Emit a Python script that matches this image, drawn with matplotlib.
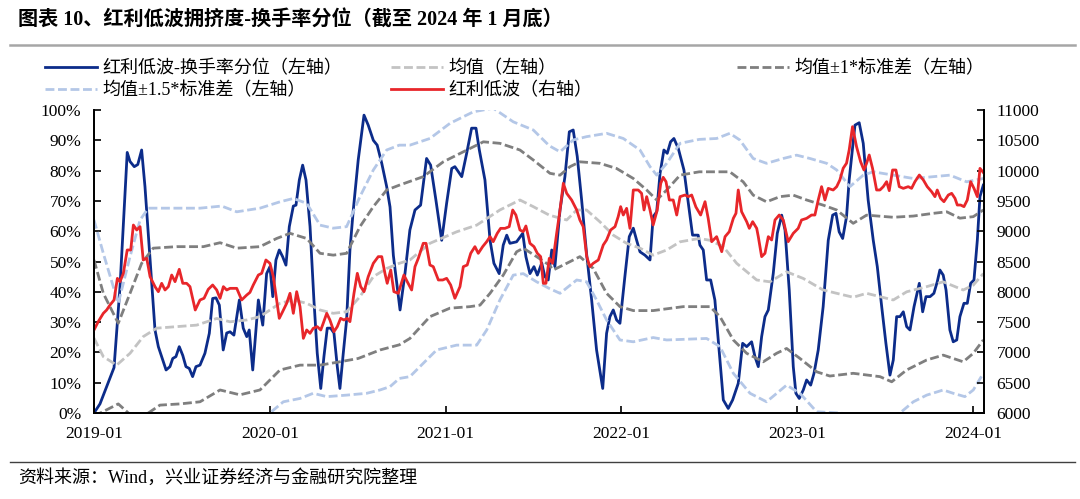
import matplotlib
matplotlib.use("Agg")
import matplotlib.pyplot as plt
from matplotlib.lines import Line2D

# 红利低波-换手率分位 (%), time as decimal year
blue_t = [2019.000, 2019.034, 2019.072, 2019.114, 2019.148, 2019.189, 2019.205, 2019.229, 2019.249, 2019.271,
          2019.290, 2019.319, 2019.347, 2019.366, 2019.385, 2019.410, 2019.432, 2019.448, 2019.466, 2019.485,
          2019.505, 2019.523, 2019.542, 2019.561, 2019.580, 2019.603, 2019.631, 2019.656, 2019.675, 2019.694,
          2019.713, 2019.735, 2019.755, 2019.774, 2019.796, 2019.827, 2019.849, 2019.869, 2019.883, 2019.903,
          2019.935, 2019.948, 2019.960, 2019.982, 2020.001, 2020.017, 2020.035, 2020.054, 2020.073, 2020.092,
          2020.111, 2020.134, 2020.149, 2020.168, 2020.187, 2020.206, 2020.229, 2020.251, 2020.270, 2020.290,
          2020.308, 2020.327, 2020.346, 2020.365, 2020.384, 2020.399, 2020.418, 2020.437, 2020.456, 2020.475,
          2020.503, 2020.536, 2020.560, 2020.589, 2020.611, 2020.637, 2020.665, 2020.684, 2020.703, 2020.741,
          2020.769, 2020.797, 2020.826, 2020.858, 2020.892, 2020.915, 2020.945, 2020.978, 2021.006, 2021.035,
          2021.053, 2021.092, 2021.120, 2021.148, 2021.173, 2021.192, 2021.224, 2021.253, 2021.275, 2021.305,
          2021.328, 2021.348, 2021.366, 2021.404, 2021.439, 2021.457, 2021.480, 2021.503, 2021.522, 2021.547,
          2021.565, 2021.584, 2021.604, 2021.622, 2021.651, 2021.679, 2021.704, 2021.726, 2021.749, 2021.774,
          2021.802, 2021.831, 2021.859, 2021.894, 2021.916, 2021.935, 2021.954, 2021.973, 2021.992, 2022.020,
          2022.045, 2022.068, 2022.087, 2022.106, 2022.134, 2022.163, 2022.181, 2022.201, 2022.220, 2022.242,
          2022.261, 2022.280, 2022.299, 2022.324, 2022.356, 2022.386, 2022.405, 2022.437, 2022.447, 2022.466,
          2022.485, 2022.508, 2022.532, 2022.551, 2022.580, 2022.608, 2022.633, 2022.665, 2022.690, 2022.713,
          2022.741, 2022.760, 2022.779, 2022.798, 2022.817, 2022.836, 2022.864, 2022.887, 2022.912, 2022.931,
          2022.955, 2022.978, 2022.993, 2023.012, 2023.035, 2023.054, 2023.077, 2023.096, 2023.120, 2023.148,
          2023.177, 2023.202, 2023.221, 2023.239, 2023.259, 2023.281, 2023.296, 2023.310, 2023.329, 2023.353,
          2023.376, 2023.404, 2023.433, 2023.456, 2023.481, 2023.505, 2023.528, 2023.547, 2023.566, 2023.585,
          2023.604, 2023.623, 2023.642, 2023.665, 2023.695, 2023.714, 2023.733, 2023.756, 2023.778, 2023.797,
          2023.812, 2023.831, 2023.847, 2023.869, 2023.888, 2023.908, 2023.926, 2023.949, 2023.968, 2023.987,
          2024.006, 2024.025, 2024.040, 2024.059]
blue_v = [0.0, 3.0, 8.7, 15.0, 41.7, 86.0, 83.0, 81.3, 82.0, 86.8,
          74.7, 50.5, 27.4, 21.9, 18.6, 14.2, 15.3, 18.0, 18.6, 21.9,
          19.0, 15.3, 14.7, 12.0, 15.3, 15.8, 19.7, 26.3, 37.8, 38.0,
          35.6, 20.8, 26.4, 26.8, 25.7, 37.3, 28.0, 25.2, 27.4, 14.2,
          37.3, 33.0, 29.0, 46.0, 48.3, 38.4, 50.5, 53.8, 51.6, 48.8,
          61.5, 68.3, 68.6, 76.9, 81.8, 76.9, 61.5, 37.3, 19.7, 8.1,
          18.6, 28.0, 28.0, 26.4, 15.3, 8.1, 19.7, 30.7, 53.8, 67.0,
          83.5, 98.3, 95.0, 90.0, 88.4, 82.4, 74.7, 68.0, 52.0, 34.0,
          46.0, 60.4, 67.0, 68.6, 84.0, 81.8, 70.3, 57.0, 69.2, 80.7,
          81.3, 78.0, 85.7, 94.0, 94.0, 86.8, 76.9, 57.0, 49.4, 46.0,
          55.4, 58.7, 56.0, 56.5, 59.3, 51.6, 46.0, 48.3, 45.5, 49.5,
          45.0, 43.9, 53.8, 48.3, 67.0, 78.0, 92.8, 93.4, 84.7, 70.3,
          52.7, 37.3, 20.8, 8.1, 26.3, 31.8, 34.0, 30.7, 29.6, 45.0,
          58.2, 61.0, 57.0, 53.2, 52.1, 50.5, 64.8, 66.4, 79.0, 86.8,
          85.7, 89.5, 90.6, 87.3, 80.2, 67.0, 58.7, 58.7, 55.4, 53.8,
          43.9, 43.9, 37.3, 24.1, 4.3, 1.5, 4.3, 9.8, 23.0, 21.9,
          23.5, 18.6, 15.3, 25.2, 31.8, 34.0, 46.0, 59.3, 65.3, 60.4,
          40.6, 15.3, 6.5, 4.8, 7.6, 10.9, 9.2, 13.1, 20.8, 35.1,
          57.0, 65.3, 65.9, 59.8, 57.6, 64.8, 76.9, 84.7, 95.0, 95.8,
          89.0, 70.3, 57.0, 48.3, 35.1, 23.0, 12.5, 17.5, 31.8, 31.8,
          33.4, 28.5, 27.4, 35.1, 42.8, 33.4, 38.4, 38.4, 39.5, 43.3,
          47.2, 45.5, 40.6, 27.4, 23.5, 24.1, 31.8, 36.2, 36.2, 42.8,
          43.9, 57.0, 71.4, 75.2]

# 红利低波 index (right axis)
red_t = [2019.000, 2019.024, 2019.053, 2019.072, 2019.091, 2019.114, 2019.133, 2019.148, 2019.167, 2019.189,
         2019.209, 2019.224, 2019.243, 2019.262, 2019.280, 2019.300, 2019.319, 2019.347, 2019.366, 2019.385,
         2019.404, 2019.423, 2019.442, 2019.461, 2019.485, 2019.505, 2019.527, 2019.546, 2019.576, 2019.603,
         2019.626, 2019.650, 2019.675, 2019.698, 2019.717, 2019.736, 2019.755, 2019.774, 2019.812, 2019.840,
         2019.869, 2019.887, 2019.906, 2019.935, 2019.954, 2019.978, 2020.001, 2020.020, 2020.039, 2020.054,
         2020.073, 2020.096, 2020.115, 2020.134, 2020.153, 2020.172, 2020.191, 2020.210, 2020.229, 2020.247,
         2020.270, 2020.290, 2020.304, 2020.324, 2020.342, 2020.365, 2020.384, 2020.403, 2020.422, 2020.441,
         2020.456, 2020.479, 2020.498, 2020.517, 2020.536, 2020.560, 2020.589, 2020.617, 2020.637, 2020.655,
         2020.668, 2020.688, 2020.706, 2020.731, 2020.763, 2020.782, 2020.807, 2020.826, 2020.845, 2020.873,
         2020.889, 2020.911, 2020.930, 2020.959, 2020.984, 2021.006, 2021.029, 2021.053, 2021.082, 2021.101,
         2021.123, 2021.143, 2021.167, 2021.186, 2021.211, 2021.234, 2021.253, 2021.271, 2021.294, 2021.313,
         2021.338, 2021.362, 2021.382, 2021.400, 2021.423, 2021.442, 2021.457, 2021.480, 2021.503, 2021.522,
         2021.541, 2021.556, 2021.571, 2021.590, 2021.609, 2021.632, 2021.651, 2021.670, 2021.689, 2021.717,
         2021.746, 2021.764, 2021.783, 2021.803, 2021.821, 2021.840, 2021.869, 2021.897, 2021.916, 2021.939,
         2021.964, 2021.982, 2021.996, 2022.011, 2022.030, 2022.049, 2022.068, 2022.096, 2022.115, 2022.129,
         2022.144, 2022.163, 2022.181, 2022.204, 2022.224, 2022.238, 2022.254, 2022.273, 2022.295, 2022.315,
         2022.334, 2022.362, 2022.381, 2022.400, 2022.424, 2022.451, 2022.476, 2022.494, 2022.514, 2022.542,
         2022.571, 2022.590, 2022.614, 2022.637, 2022.652, 2022.665, 2022.684, 2022.713, 2022.728, 2022.747,
         2022.770, 2022.779, 2022.798, 2022.817, 2022.836, 2022.855, 2022.874, 2022.898, 2022.921, 2022.949,
         2022.978, 2023.006, 2023.025, 2023.054, 2023.082, 2023.101, 2023.120, 2023.139, 2023.158, 2023.177,
         2023.205, 2023.225, 2023.243, 2023.262, 2023.281, 2023.296, 2023.315, 2023.338, 2023.361, 2023.380,
         2023.395, 2023.410, 2023.429, 2023.452, 2023.471, 2023.490, 2023.509, 2023.524, 2023.543, 2023.562,
         2023.581, 2023.604, 2023.632, 2023.651, 2023.670, 2023.695, 2023.718, 2023.740, 2023.765, 2023.784,
         2023.797, 2023.816, 2023.835, 2023.860, 2023.879, 2023.898, 2023.911, 2023.930, 2023.949, 2023.968,
         2023.987, 2024.006, 2024.025, 2024.040, 2024.063]
red_v = [7370, 7507, 7645, 7700, 7782, 7865, 8222, 8167, 8305, 8690,
         8690, 9102, 9020, 9075, 8525, 8553, 8250, 8085, 8002, 8140,
         8030, 8085, 8277, 8167, 8371, 8140, 8140, 8085, 7700, 7865,
         7893, 8041, 8112, 8030, 7893, 8085, 8030, 8057, 8057, 7865,
         7947, 7990, 8112, 8277, 8305, 8525, 8470, 8250, 7865, 7562,
         7672, 7810, 7975, 7645, 8002, 7755, 7232, 7370, 7315, 7397,
         7425, 7370, 7480, 7645, 7535, 7342, 7425, 7562, 7535, 7562,
         7507, 7975, 8305, 8085, 8002, 8250, 8470, 8580, 8580, 8305,
         8140, 8360, 8002, 7975, 8277, 8167, 8030, 8415, 8553, 8800,
         8800, 8442, 8415, 8195, 8195, 8222, 8112, 7893, 8085, 8415,
         8442, 8635, 8745, 8635, 8745, 8827, 8910, 8827, 8965, 9047,
         9047, 9075, 9350, 9267, 9020, 8992, 9086, 8800, 8745, 8635,
         8580, 8140, 8140, 8553, 8470, 8965, 9350, 9790, 9625, 9515,
         9350, 9185, 9075, 8580, 8415, 8470, 8525, 8772, 8855, 9020,
         9075, 9240, 9405, 9267, 9377, 9047, 9680, 9680, 9625, 9350,
         9570, 9350, 9102, 9350, 9790, 9889, 9817, 9515, 9515, 9267,
         9570, 9597, 9570, 9597, 9400, 9267, 9487, 9212, 8827, 8910,
         8662, 8910, 8992, 9212, 9295, 9680, 9322, 9157, 9047, 9157,
         9047, 8910, 8580, 8635, 8910, 8855, 9185, 9267, 9185, 8827,
         8965, 9047, 9185, 9212, 9267, 9267, 9515, 9735, 9515, 9707,
         9680, 9735, 9845, 10039, 10122, 10340, 10725, 10394, 10147, 10010,
         10120, 10257, 10037, 9680, 9680, 9735, 9817, 9669, 10010, 10010,
         9735, 9707, 9735, 9707, 9817, 9927, 9845, 9735, 9652, 9570,
         9680, 9542, 9487, 9597, 9625, 9542, 9432, 9432, 9405, 9515,
         9817, 9707, 9570, 10037, 9955]

# 均值 (%)
mean_t = [2019.000, 2019.053, 2019.129, 2019.205, 2019.280, 2019.357, 2019.470, 2019.584, 2019.698, 2019.774,
          2019.869, 2019.944, 2020.058, 2020.134, 2020.210, 2020.286, 2020.361, 2020.437, 2020.513, 2020.589,
          2020.665, 2020.737, 2020.797, 2020.911, 2021.063, 2021.177, 2021.309, 2021.423, 2021.499, 2021.590,
          2021.689, 2021.746, 2021.802, 2021.878, 2021.954, 2022.030, 2022.106, 2022.181, 2022.258, 2022.334,
          2022.443, 2022.504, 2022.580, 2022.656, 2022.770, 2022.845, 2022.940, 2023.035, 2023.148, 2023.225,
          2023.319, 2023.395, 2023.471, 2023.547, 2023.623, 2023.737, 2023.831, 2023.945, 2024.002, 2024.059]
mean_v = [24.7, 18.6, 15.8, 19.7, 25.2, 28.0, 28.5, 29.0, 31.2, 30.1,
          30.7, 31.8, 36.2, 37.3, 36.2, 34.0, 32.9, 33.4, 38.4, 45.0,
          47.7, 49.4, 50.5, 56.0, 59.8, 62.0, 67.0, 70.3, 68.1, 65.3,
          63.7, 67.0, 67.0, 63.1, 58.7, 56.0, 54.4, 52.1, 53.8, 56.5,
          57.6, 57.0, 54.9, 49.4, 43.9, 43.3, 46.6, 44.4, 40.6, 39.5,
          38.2, 39.5, 38.4, 37.3, 40.0, 41.7, 43.3, 40.6, 42.2, 46.0]

# 均值+1*标准差 (%)
up1_t = [2019.000, 2019.053, 2019.138, 2019.205, 2019.271, 2019.337, 2019.470, 2019.622, 2019.717, 2019.812,
         2019.944, 2020.039, 2020.115, 2020.210, 2020.286, 2020.361, 2020.437, 2020.513, 2020.589, 2020.665,
         2020.737, 2020.873, 2020.987, 2021.101, 2021.215, 2021.309, 2021.423, 2021.499, 2021.594, 2021.651,
         2021.708, 2021.764, 2021.878, 2021.973, 2022.068, 2022.144, 2022.201, 2022.258, 2022.334, 2022.443,
         2022.617, 2022.693, 2022.750, 2022.826, 2022.902, 2022.978, 2023.054, 2023.148, 2023.225, 2023.319,
         2023.395, 2023.547, 2023.661, 2023.775, 2023.851, 2023.926, 2024.002, 2024.059]
up1_v = [50.5, 39.5, 29.6, 39.5, 49.4, 54.4, 54.9, 54.9, 56.2, 54.4,
         54.9, 57.6, 59.3, 57.6, 52.7, 52.1, 52.7, 61.5, 68.1, 73.6,
         75.2, 78.0, 82.9, 86.2, 89.5, 89.0, 86.8, 83.5, 79.1, 78.5,
         81.3, 82.9, 82.4, 80.7, 77.4, 73.6, 70.3, 73.6, 78.5, 79.6,
         79.6, 76.3, 71.9, 69.7, 71.4, 71.9, 70.3, 68.6, 67.0, 62.6,
         65.3, 64.6, 65.0, 65.9, 66.4, 64.3, 64.8, 67.0]

# 均值-1*标准差 (%)
lo1_t = [2019.000, 2019.053, 2019.138, 2019.205, 2019.262, 2019.309, 2019.375, 2019.489, 2019.603, 2019.717,
         2019.830, 2019.944, 2020.058, 2020.172, 2020.286, 2020.399, 2020.503, 2020.627, 2020.737, 2020.797,
         2020.911, 2021.025, 2021.139, 2021.196, 2021.253, 2021.328, 2021.404, 2021.442, 2021.518, 2021.590,
         2021.613, 2021.689, 2021.764, 2021.840, 2021.916, 2021.992, 2022.068, 2022.181, 2022.352, 2022.504,
         2022.561, 2022.637, 2022.713, 2022.807, 2022.883, 2022.940, 2023.016, 2023.111, 2023.186, 2023.319,
         2023.471, 2023.538, 2023.623, 2023.737, 2023.831, 2023.945, 2024.002, 2024.059]
lo1_v = [-1.0, 0.5, 3.0, -0.5, -1.5, 0.0, 2.6, 3.0, 3.7, 7.6,
         6.0, 7.6, 14.2, 15.8, 15.8, 16.9, 18.0, 20.8, 22.5, 24.6,
         31.8, 34.6, 35.1, 35.6, 39.5, 45.5, 53.2, 54.4, 51.6, 48.8,
         47.2, 49.4, 51.6, 47.7, 39.5, 35.1, 33.8, 33.8, 35.1, 35.1,
         31.8, 24.1, 19.7, 16.9, 19.7, 21.3, 18.0, 13.6, 12.2, 13.1,
         12.0, 10.3, 14.2, 17.5, 19.1, 16.9, 19.7, 24.1]

# 均值+1.5*标准差 (%)
up15_t = [2019.000, 2019.053, 2019.138, 2019.205, 2019.262, 2019.309, 2019.470, 2019.603, 2019.726, 2019.812,
          2019.944, 2020.058, 2020.134, 2020.210, 2020.286, 2020.361, 2020.437, 2020.513, 2020.589, 2020.665,
          2020.737, 2020.797, 2020.911, 2021.025, 2021.158, 2021.271, 2021.385, 2021.499, 2021.590, 2021.651,
          2021.726, 2021.802, 2021.916, 2022.011, 2022.106, 2022.163, 2022.201, 2022.258, 2022.334, 2022.443,
          2022.542, 2022.617, 2022.674, 2022.750, 2022.826, 2022.921, 2022.997, 2023.073, 2023.168, 2023.225,
          2023.300, 2023.376, 2023.433, 2023.547, 2023.661, 2023.775, 2023.869, 2023.964, 2024.059]
up15_v = [63.7, 52.7, 36.2, 51.6, 63.7, 67.6, 67.6, 67.6, 68.3, 66.4,
          67.6, 69.7, 70.8, 69.2, 62.0, 61.0, 61.5, 71.4, 80.2, 86.8,
          88.4, 88.4, 90.6, 95.6, 99.4, 100.6, 96.1, 93.4, 88.2, 86.2,
          90.1, 91.2, 92.3, 90.6, 86.8, 81.3, 78.5, 82.4, 89.0, 90.3,
          90.6, 92.3, 90.1, 84.0, 82.4, 84.0, 85.1, 84.0, 82.4, 80.2,
          74.7, 78.5, 79.6, 78.5, 77.4, 78.0, 78.5, 76.3, 77.4]

# 均值-1.5*标准差 (%)
lo15_t = [2019.000, 2019.138, 2019.309, 2019.603, 2019.830, 2019.956, 2020.001, 2020.077, 2020.172, 2020.247,
          2020.324, 2020.437, 2020.551, 2020.627, 2020.684, 2020.737, 2020.797, 2020.873, 2020.949, 2021.063,
          2021.177, 2021.234, 2021.309, 2021.385, 2021.442, 2021.518, 2021.590, 2021.651, 2021.746, 2021.802,
          2021.859, 2021.916, 2021.992, 2022.068, 2022.181, 2022.258, 2022.485, 2022.561, 2022.637, 2022.732,
          2022.826, 2022.940, 2023.016, 2023.111, 2023.243, 2023.357, 2023.471, 2023.585, 2023.661, 2023.737,
          2023.831, 2023.888, 2023.954, 2024.002, 2024.059]
lo15_v = [-14.0, -5.0, -8.0, -10.0, -7.0, -1.0, 0.0, 3.7, 4.8, 6.5,
          5.4, 5.9, 6.5, 7.6, 8.7, 11.4, 12.0, 16.4, 20.8, 22.4,
          22.4, 27.4, 37.3, 45.5, 46.0, 43.3, 41.1, 39.5, 43.9, 43.3,
          37.3, 30.7, 24.1, 23.5, 24.9, 24.1, 24.6, 21.9, 13.1, 6.5,
          3.7, 9.2, 6.5, 0.4, 0.0, -1.0, -2.0, 0.0, 3.7, 5.9,
          7.6, 6.5, 5.4, 7.6, 13.1]

x_years = [2019, 2020, 2021, 2022, 2023, 2024]
x_labels = [f"{y}-01" for y in x_years]
left_ticks = list(range(0, 101, 10))
right_ticks = list(range(6000, 11001, 500))

serif_cjk = ['Liberation Serif', 'Noto Sans CJK SC']
plt.rcParams['font.family'] = serif_cjk
plt.rcParams['axes.unicode_minus'] = False

fig = plt.figure(figsize=(10.8, 4.99), dpi=100)
ax = fig.add_axes([94 / 1080, 1 - 413 / 499, 890 / 1080, 303 / 499])
ax2 = ax.twinx()

lw = 2.0
dash = (3.2, 1.3)
l_blue, = ax.plot(blue_t, blue_v, color='#0c2c8a', lw=lw, label='红利低波-换手率分位（左轴）')
l_mean, = ax.plot(mean_t, mean_v, color='#c3c3c3', lw=lw, dashes=dash, label='均值（左轴）')
l_up1, = ax.plot(up1_t, up1_v, color='#7f7f7f', lw=lw, dashes=dash, label='均值±1*标准差（左轴）')
ax.plot(lo1_t, lo1_v, color='#7f7f7f', lw=lw, dashes=dash)
l_up15, = ax.plot(up15_t, up15_v, color='#b4c7e7', lw=lw, dashes=dash, label='均值±1.5*标准差（左轴）')
ax.plot(lo15_t, lo15_v, color='#b4c7e7', lw=lw, dashes=dash)
l_red, = ax2.plot(red_t, red_v, color='#e8262a', lw=lw, label='红利低波（右轴）')

ax.set_xlim(2019.0, 2024.063)
ax.set_ylim(0, 100)
ax2.set_ylim(6000, 11000)
ax.set_xticks(x_years)
ax.set_xticklabels(x_labels)
ax.set_yticks(left_ticks)
ax.set_yticklabels([f"{v}%" for v in left_ticks])
ax2.set_yticks(right_ticks)

for a in (ax, ax2):
    a.spines['top'].set_visible(False)
    for s in ('left', 'right', 'bottom'):
        a.spines[s].set_linewidth(1.3)
        a.spines[s].set_color('black')
    a.tick_params(direction='in', length=5, width=1.2, labelsize=12.5, pad=9)

# legend as three columns
leg_kw = dict(loc='upper left', frameon=False, fontsize=13, handlelength=2.9,
              handletextpad=0.3, borderpad=0, borderaxespad=0, labelspacing=0.25)
y_leg = 1 - 60 / 499
fig.legend(handles=[l_blue, l_up15], bbox_to_anchor=(45 / 1080, y_leg), **leg_kw)
fig.legend(handles=[l_mean, l_red], bbox_to_anchor=(391 / 1080, y_leg), **leg_kw)
fig.legend(handles=[l_up1], bbox_to_anchor=(737 / 1080, y_leg), **leg_kw)

fig.text(18 / 1080, 1 - 20 / 499, '图表 10、红利低波拥挤度-换手率分位（截至 2024 年 1 月底）',
         fontsize=14.5, fontweight='bold', va='center', ha='left')
fig.add_artist(Line2D([10 / 1080, 1075 / 1080], [1 - 45 / 499] * 2, color='#a6a6a6', lw=1.8))
fig.add_artist(Line2D([10 / 1080, 1075 / 1080], [1 - 462 / 499] * 2, color='#404040', lw=1.0))
fig.text(18 / 1080, 1 - 478 / 499, '资料来源：Wind，兴业证券经济与金融研究院整理',
         fontsize=13, va='center', ha='left')

fig.savefig('out.png', dpi=100)
